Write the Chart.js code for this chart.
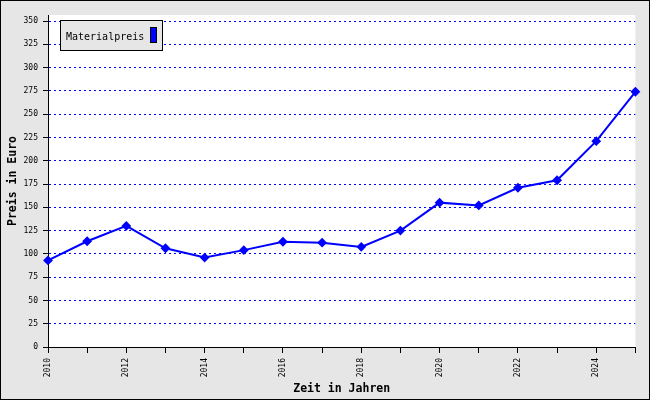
<!DOCTYPE html>
<html>
<head>
<meta charset="utf-8">
<script src="https://cdn.jsdelivr.net/npm/chart.js@4"></script>
<style>
  body { margin: 0; background: #fff; }
  canvas { display: block; }
</style>
</head>
<body>
<canvas id="priceChart" width="650" height="400"></canvas>
<script>
// values
const years = [2010, 2011, 2012, 2013, 2014, 2015, 2016, 2017, 2018, 2019, 2020, 2021, 2022, 2023, 2024, 2025];
const prices = [93, 113.5, 130, 106, 96, 104, 113, 112, 107.5, 125, 155, 152, 171, 179, 221, 274];
const seriesName = "Materialpreis";
const xTitle = "Zeit in Jahren";
const yTitle = "Preis in Euro";

const mono = "'DejaVu Sans Mono', 'Liberation Mono', monospace";

// gray frame, white plot area, legend and axis titles
const framePlugin = {
    id: 'frame',
    beforeDraw(chart) {
        const ctx = chart.ctx;
        const a = chart.chartArea;
        ctx.save();
        ctx.fillStyle = '#e6e6e6';
        ctx.fillRect(0, 0, chart.width, chart.height);
        ctx.fillStyle = '#ffffff';
        ctx.fillRect(a.left, a.top - 6, a.right - a.left, a.bottom - a.top + 6);
        ctx.strokeStyle = '#000';
        ctx.lineWidth = 1;
        ctx.strokeRect(0.5, 0.5, chart.width - 1, chart.height - 1);
        ctx.restore();
    },
    afterDraw(chart) {
        const ctx = chart.ctx;
        const a = chart.chartArea;
        ctx.save();
        // y axis line continues to the top of the white area
        ctx.strokeStyle = '#000';
        ctx.lineWidth = 1;
        ctx.beginPath();
        ctx.moveTo(a.left + 0.5, a.top - 6);
        ctx.lineTo(a.left + 0.5, a.top);
        ctx.stroke();

        // legend
        ctx.fillStyle = '#e6e6e6';
        ctx.fillRect(60.5, 20.5, 102, 30);
        ctx.strokeRect(60.5, 20.5, 102, 30);
        ctx.fillStyle = '#000';
        ctx.font = '10px ' + mono;
        ctx.textBaseline = 'middle';
        ctx.textAlign = 'left';
        ctx.fillText(seriesName, 66, 37);
        ctx.fillStyle = '#0000ff';
        ctx.fillRect(150.5, 27.5, 6, 15);
        ctx.strokeRect(150.5, 27.5, 6, 15);

        // axis titles
        ctx.fillStyle = '#000';
        ctx.font = 'bold 11.5px ' + mono;
        ctx.textAlign = 'center';
        ctx.fillText(xTitle, (a.left + a.right) / 2, 389);
        ctx.translate(13, (a.top - 6 + a.bottom) / 2);
        ctx.rotate(-Math.PI / 2);
        ctx.fillText(yTitle, 0, 0);
        ctx.restore();
    }
};

new Chart(document.getElementById('priceChart'), {
    type: 'line',
    data: {
        datasets: [{
            label: seriesName,
            data: years.map((y, i) => ({ x: y, y: prices[i] })),
            borderColor: '#0000ff',
            backgroundColor: '#0000ff',
            borderWidth: 2,
            pointStyle: 'rectRot',
            pointRadius: 3.5,
            pointBackgroundColor: '#0000ff',
            pointBorderColor: '#0000ff',
            tension: 0,
            clip: false
        }]
    },
    options: {
        responsive: false,
        animation: false,
        layout: { padding: { top: 21, right: 14, left: 0, bottom: 0 } },
        plugins: {
            legend: { display: false },
            tooltip: { enabled: false }
        },
        scales: {
            x: {
                type: 'linear',
                min: 2010,
                max: 2025,
                afterFit(scale) { scale.height = 53; },
                ticks: {
                    stepSize: 1,
                    autoSkip: false,
                    maxRotation: 90,
                    minRotation: 90,
                    padding: 5,
                    color: '#000',
                    font: { family: mono, size: 8 },
                    callback: v => (v % 2 === 0 ? String(v) : '')
                },
                grid: {
                    drawOnChartArea: false,
                    drawTicks: true,
                    tickLength: 6,
                    color: '#000',
                    tickColor: '#000'
                },
                border: { display: true, color: '#000', width: 1 }
            },
            y: {
                min: 0,
                max: 350,
                afterFit(scale) { scale.width = 48; },
                ticks: {
                    stepSize: 25,
                    padding: 5,
                    color: '#000',
                    font: { family: mono, size: 8 }
                },
                grid: {
                    color: c => (c.tick && c.tick.value === 0 ? 'rgba(0,0,0,0)' : '#0000ff'),
                    tickColor: '#000',
                    tickBorderDash: [],
                    tickLength: 5,
                    lineWidth: 1
                },
                border: { display: true, color: '#000', width: 1, dash: [2, 3] }
            }
        }
    },
    plugins: [framePlugin]
});
</script>
</body>
</html>
